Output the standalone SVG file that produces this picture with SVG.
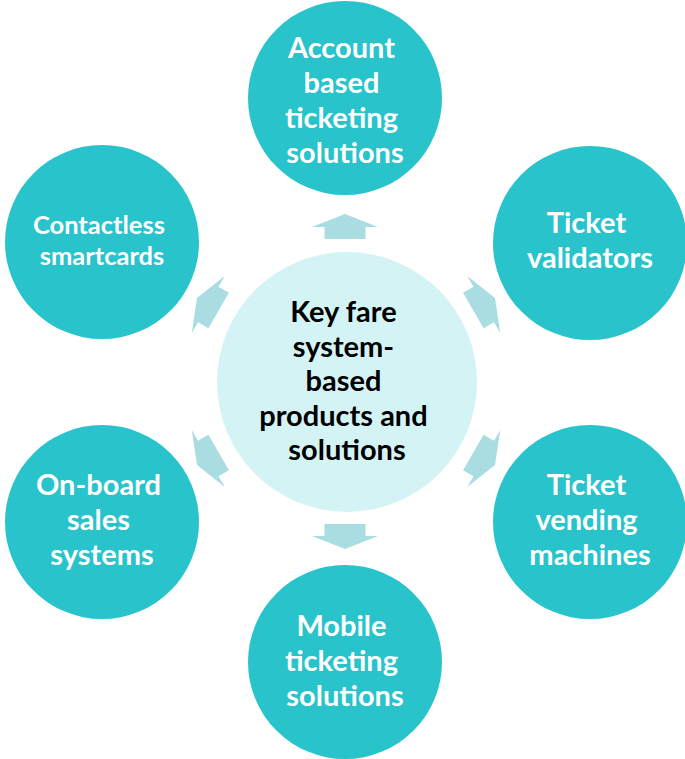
<svg xmlns="http://www.w3.org/2000/svg" width="685" height="759" viewBox="0 0 685 759">
  <defs>
    <style>
      .outer { fill: #28C3CB; }
      .hub { fill: #D4F3F5; }
      .arrow { fill: #A9DDE2; }
      .lbl { font-family: "Lato", "Open Sans", "Liberation Sans", sans-serif; font-weight: 700; text-anchor: middle; fill: #FFFFFF; font-size: 29px; }
      .lbl-sm { font-size: 25.5px; }
      .hub-lbl { fill: #000000; font-size: 29px; }
    </style>
    <!-- block arrow, tip at origin, pointing up -->
    <path id="blockArrow" d="M0,0 L33,13 L20.5,13 L20.5,25 L-20.5,25 L-20.5,13 L-33,13 Z"/>
  </defs>

  <g id="connectors">
    <use href="#blockArrow" class="arrow" transform="translate(345,214)"/>
    <use href="#blockArrow" class="arrow" transform="translate(345,549) rotate(180)"/>
    <use href="#blockArrow" class="arrow" transform="translate(197,298) rotate(-60)"/>
    <use href="#blockArrow" class="arrow" transform="translate(495,298) rotate(60)"/>
    <use href="#blockArrow" class="arrow" transform="translate(197,465) rotate(-120)"/>
    <use href="#blockArrow" class="arrow" transform="translate(495,465) rotate(120)"/>
  </g>

  <g id="hub">
    <circle class="hub" cx="347" cy="382" r="130"/>
    <text class="lbl hub-lbl">
      <tspan x="347" y="322">Key fare</tspan>
      <tspan x="347" y="357">system-</tspan>
      <tspan x="347" y="391">based</tspan>
      <tspan x="347" y="426">products and</tspan>
      <tspan x="347" y="460">solutions</tspan>
    </text>
  </g>

  <g id="account-based">
    <circle class="outer" cx="345" cy="98" r="97"/>
    <text class="lbl">
      <tspan x="345" y="58">Account</tspan>
      <tspan x="345" y="93">based</tspan>
      <tspan x="345" y="128">ticketing</tspan>
      <tspan x="345" y="163">solutions</tspan>
    </text>
  </g>

  <g id="contactless">
    <circle class="outer" cx="102" cy="242" r="97"/>
    <text class="lbl lbl-sm">
      <tspan x="102" y="234">Contactless</tspan>
      <tspan x="102" y="265">smartcards</tspan>
    </text>
  </g>

  <g id="validators">
    <circle class="outer" cx="590" cy="243" r="97"/>
    <text class="lbl">
      <tspan x="590" y="233">Ticket</tspan>
      <tspan x="590" y="268">validators</tspan>
    </text>
  </g>

  <g id="on-board">
    <circle class="outer" cx="102" cy="522" r="97"/>
    <text class="lbl">
      <tspan x="102" y="495">On-board</tspan>
      <tspan x="102" y="530">sales</tspan>
      <tspan x="102" y="565">systems</tspan>
    </text>
  </g>

  <g id="vending">
    <circle class="outer" cx="590" cy="522" r="97"/>
    <text class="lbl">
      <tspan x="590" y="495">Ticket</tspan>
      <tspan x="590" y="530">vending</tspan>
      <tspan x="590" y="565">machines</tspan>
    </text>
  </g>

  <g id="mobile">
    <circle class="outer" cx="345" cy="662" r="97"/>
    <text class="lbl">
      <tspan x="345" y="636">Mobile</tspan>
      <tspan x="345" y="671">ticketing</tspan>
      <tspan x="345" y="706">solutions</tspan>
    </text>
  </g>
</svg>
